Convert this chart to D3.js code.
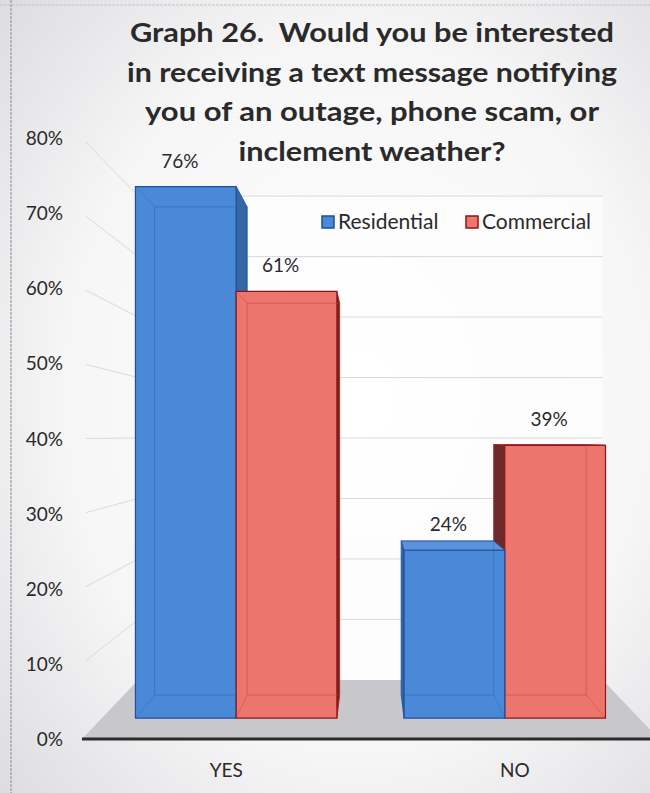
<!DOCTYPE html>
<html>
<head>
<meta charset="utf-8">
<script src="https://cdn.jsdelivr.net/npm/d3@7"></script>
<style>
  html, body { margin: 0; padding: 0; background: #fff; }
  svg { display: block; }
  text { font-family: Lato, "Open Sans", "DejaVu Sans", sans-serif; fill: #2a2a2a; white-space: pre; }
</style>
</head>
<body>
<svg id="chart" width="650" height="793"></svg>
<script>
// ---- data ----
const categories = ["YES", "NO"];
const seriesNames = ["Residential", "Commercial"];
const residential = [76, 24];
const commercial = [61, 39];
const yTicks = [0, 10, 20, 30, 40, 50, 60, 70, 80];
const titleLines = [
  "Graph 26.  Would you be interested",
  "in receiving a text message notifying",
  "you of an outage, phone scam, or",
  "inclement weather?"
];

// ---- layout ----
const W = 650, H = 793;
const svg = d3.select("#chart");

const plotLeft = 82, plotRight = 659, floorY = 739, topY = 138;
const vp = { x: 370, y: 436 };             // vanishing point of the 3D view
const depth = d3.scaleLinear().domain([0, 1]).range([1, 0.805]); // front -> back wall scale
const barFront = 0.931, barBack = 0.855;     // bar depth (as projection scale)

const y = d3.scaleLinear().domain([0, 80]).range([floorY, topY]);
const x0 = d3.scaleBand().domain(categories).range([plotLeft, plotRight])
  .paddingInner(0.25).paddingOuter(0.125);
const x1 = d3.scaleBand().domain(seriesNames).range([0, x0.bandwidth()]);

const colors = {
  Residential: { face: "#4a88d8", side: "#3566a6", top: "#5b93db", edge: "#1d4f9a", inner: "#2c62b0" },
  Commercial:  { face: "#ec756d", side: "#6e2a2a", top: "#ef847c", edge: "#8e1414", inner: "#c23d3d" }
};

function proj(X, Y, s) { return [vp.x + s * (X - vp.x), vp.y + s * (Y - vp.y)]; }
const poly = pts => "M" + pts.map(p => p.join(",")).join("L") + "Z";

// ---- background ----
const defs = svg.append("defs");
const bg = defs.append("radialGradient").attr("id", "bg")
  .attr("cx", "55%").attr("cy", "50%").attr("r", "75%");
bg.append("stop").attr("offset", "0%").attr("stop-color", "#ffffff");
bg.append("stop").attr("offset", "60%").attr("stop-color", "#f6f6f7");
bg.append("stop").attr("offset", "100%").attr("stop-color", "#dcdcdf");
svg.append("rect").attr("width", W).attr("height", H).attr("fill", "url(#bg)");

// page border marks
svg.append("line").attr("x1", 11).attr("x2", 11).attr("y1", 0).attr("y2", H)
  .attr("stroke", "#a0a0a0").attr("stroke-width", 1.3).attr("stroke-dasharray", "3,1");
svg.append("line").attr("x1", 0).attr("x2", W).attr("y1", 5).attr("y2", 5)
  .attr("stroke", "#c4c4c4").attr("stroke-width", 1).attr("stroke-dasharray", "3,1");

// ---- walls ----
const dB = depth(1);
svg.append("path")
  .attr("d", poly([proj(plotLeft, topY, dB), proj(plotRight, topY, dB), proj(plotRight, floorY, dB), proj(plotLeft, floorY, dB)]))
  .attr("fill", "#ffffff").attr("opacity", 0.6);

const grid = svg.append("g").attr("stroke", "#dadadd").attr("stroke-width", 1).attr("fill", "none");
yTicks.filter(v => v > 0).forEach(v => {
  const a = proj(plotLeft, y(v), depth(0)), b = proj(plotLeft, y(v), dB), c = proj(plotRight, y(v), dB);
  grid.append("path").attr("d", `M${a[0] + 4},${a[1] + (b[1] - a[1]) * 4 / (b[0] - a[0])}L${b.join(",")}L${c.join(",")}`);
});

// floor
svg.append("path")
  .attr("d", poly([proj(plotLeft, floorY, depth(0)), proj(plotRight, floorY, depth(0)), proj(plotRight, floorY, dB), proj(plotLeft, floorY, dB)]))
  .attr("fill", "#c8c8cc");

// ---- bars ----
const bars = [];
categories.forEach((c, i) => {
  seriesNames.forEach(sn => {
    const val = sn === "Residential" ? residential[i] : commercial[i];
    const X0 = x0(c) + x1(sn), X1 = X0 + x1.bandwidth();
    bars.push({ c, sn, val, X0, X1 });
  });
});
// paint bars farthest from the eye line first
bars.sort((a, b) => Math.abs((b.X0 + b.X1) / 2 - vp.x) - Math.abs((a.X0 + a.X1) / 2 - vp.x));

const gBars = svg.append("g");
bars.forEach(b => {
  const col = colors[b.sn];
  const Yt = y(b.val), Yb = floorY;
  const g = gBars.append("g");
  // side face
  if (b.X1 < vp.x) {
    g.append("path").attr("d", poly([proj(b.X1, Yt, barFront), proj(b.X1, Yt, barBack), proj(b.X1, Yb, barBack), proj(b.X1, Yb, barFront)]))
      .attr("fill", col.side).attr("stroke", col.edge).attr("stroke-width", 0.8);
  }
  if (b.X0 > vp.x) {
    g.append("path").attr("d", poly([proj(b.X0, Yt, barFront), proj(b.X0, Yt, barBack), proj(b.X0, Yb, barBack), proj(b.X0, Yb, barFront)]))
      .attr("fill", col.side).attr("stroke", col.edge).attr("stroke-width", 0.8);
  }
  // top face (visible below eye level)
  if (Yt > vp.y) {
    g.append("path").attr("d", poly([proj(b.X0, Yt, barFront), proj(b.X1, Yt, barFront), proj(b.X1, Yt, barBack), proj(b.X0, Yt, barBack)]))
      .attr("fill", col.top).attr("stroke", col.edge).attr("stroke-width", 0.8);
  }
  // front face
  g.append("path").attr("d", poly([proj(b.X0, Yt, barFront), proj(b.X1, Yt, barFront), proj(b.X1, Yb, barFront), proj(b.X0, Yb, barFront)]))
    .attr("fill", col.face).attr("stroke", col.edge).attr("stroke-width", 1.2);
  // back edges seen through the translucent column
  const bk = [proj(b.X0, Yt, barBack), proj(b.X1, Yt, barBack), proj(b.X1, Yb, barBack), proj(b.X0, Yb, barBack)];
  g.append("path").attr("d", poly(bk)).attr("fill", "none")
    .attr("stroke", col.inner).attr("stroke-width", 1).attr("opacity", 0.45);
  // corner edges between front and back faces
  [[b.X0, Yt], [b.X1, Yt], [b.X1, Yb], [b.X0, Yb]].forEach(([X, Y]) => {
    const p = proj(X, Y, barFront), q = proj(X, Y, barBack);
    g.append("line").attr("x1", p[0]).attr("y1", p[1]).attr("x2", q[0]).attr("y2", q[1])
      .attr("stroke", col.inner).attr("stroke-width", 1).attr("opacity", 0.35);
  });
  // value label
  const top = proj((b.X0 + b.X1) / 2, Yt, barFront);
  svg.append("text").attr("x", top[0] - 6).attr("y", top[1] - 19)
    .attr("text-anchor", "middle").attr("font-size", 19).text(b.val + "%");
});

// ---- axes ----
svg.append("line").attr("x1", plotLeft).attr("x2", W).attr("y1", floorY).attr("y2", floorY)
  .attr("stroke", "#2b2b2b").attr("stroke-width", 3);

svg.append("g").selectAll("text").data(yTicks).join("text")
  .attr("x", 63).attr("y", d => y(d) + 7).attr("text-anchor", "end")
  .attr("font-size", 19).text(d => d + "%");

svg.append("g").selectAll("text").data(categories).join("text")
  .attr("x", d => x0(d) + x0.bandwidth() / 2).attr("y", 777).attr("text-anchor", "middle")
  .attr("font-size", 19).text(d => d);

// ---- legend ----
const legendX = [322, 466];
const lg = svg.append("g");
seriesNames.forEach((sn, i) => {
  lg.append("rect").attr("x", legendX[i]).attr("y", 216).attr("width", 12).attr("height", 12)
    .attr("fill", colors[sn].face).attr("stroke", colors[sn].edge).attr("stroke-width", 1.5);
  lg.append("text").attr("x", legendX[i] + 16).attr("y", 229).attr("font-size", 21).text(sn);
});

// ---- title ----
const titleWidths = [484, 490, 454, 267];
const titleBase = [42, 82, 121, 161];
svg.append("g").selectAll("text").data(titleLines).join("text")
  .attr("x", 372).attr("y", (d, i) => titleBase[i]).attr("text-anchor", "middle")
  .attr("font-size", 27).attr("font-weight", "bold")
  .attr("textLength", (d, i) => titleWidths[i]).attr("lengthAdjust", "spacingAndGlyphs")
  .text(d => d);
</script>
</body>
</html>
